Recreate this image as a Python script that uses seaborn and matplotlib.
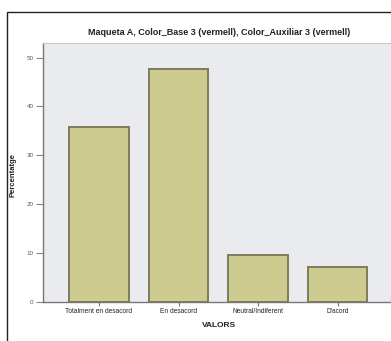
import pandas as pd
import seaborn as sns
import matplotlib.pyplot as plt
from matplotlib.patches import Rectangle

# Dades (percentatges llegits del gràfic)
categories = ['Totalment en desacord', 'En desacord', 'Neutral/Indiferent', "D'acord"]
percentages = [35.7, 47.6, 9.5, 7.1]
yticks = [0, 10, 20, 30, 40, 50]
ytick_labels = ['0', '10', '20', '30', '40', '50']

df = pd.DataFrame({'VALORS': categories, 'Percentatge': percentages})

plt.rcParams['font.family'] = ['Liberation Sans', 'DejaVu Sans']

fig = plt.figure(figsize=(3.91, 3.41), dpi=100)
ax = fig.add_axes([42.5 / 391, 39.5 / 341, 1 - 42.5 / 391 + 0.01, 258.5 / 341])

sns.barplot(data=df, x='VALORS', y='Percentatge', color='#cdcb8f',
            edgecolor='#807b58', linewidth=1.4, width=0.75, saturation=1, ax=ax)

ax.set_facecolor('#e9ebef')
ax.set_xlim(-0.71, 3.72)
ax.set_ylim(0, 53)
ax.set_yticks(yticks)
ax.set_yticklabels(ytick_labels)

ax.tick_params(axis='y', labelsize=4.5, length=5, width=0.8, color='#888888',
               labelcolor='#555555', pad=1.5)
ax.tick_params(axis='x', labelsize=4.8, length=3, width=0.8, color='#777777',
               labelcolor='#222222', pad=2)

ax.set_xlabel('VALORS', fontsize=6, fontweight='bold', color='#222222', labelpad=5)
ax.set_ylabel('Percentatge', fontsize=5.5, fontweight='bold', color='#222222')
ax.yaxis.set_label_coords(-0.075, 0.49)
ax.set_title('Maqueta A, Color_Base 3 (vermell), Color_Auxiliar 3 (vermell)',
             fontsize=6.5, fontweight='bold', color='#222222', pad=6)

for side in ['left', 'bottom']:
    ax.spines[side].set_color('#777777')
    ax.spines[side].set_linewidth(1.0)
for side in ['top', 'right']:
    ax.spines[side].set_color('#c8c8c8')
    ax.spines[side].set_linewidth(0.8)

# marc exterior
fig.add_artist(Rectangle((7 / 391, -0.1), 1.2, 1 - 12 / 341 + 0.1, transform=fig.transFigure,
                         fill=False, edgecolor='#222222', linewidth=1.0))

plt.savefig('out.png', dpi=100)
plt.close()
